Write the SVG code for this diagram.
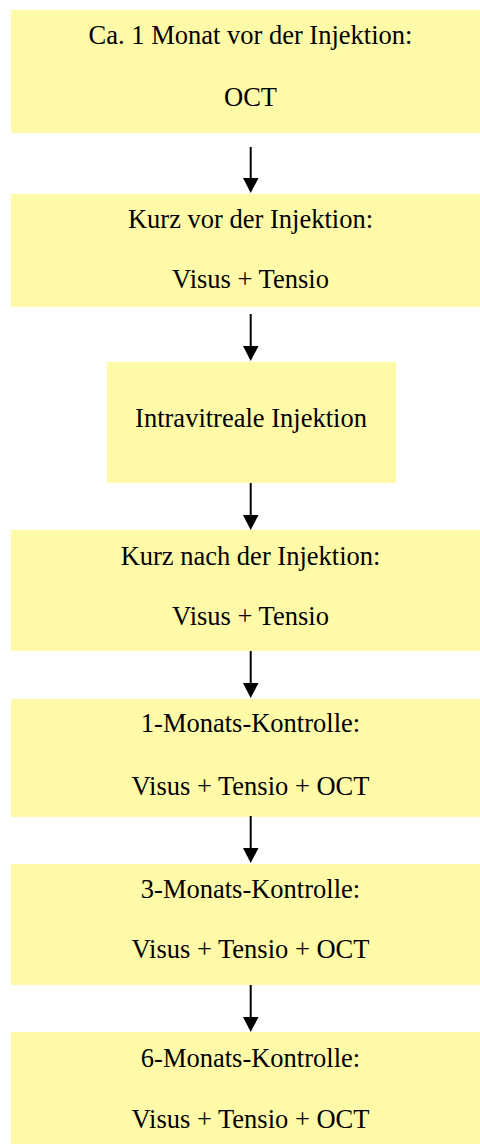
<svg xmlns="http://www.w3.org/2000/svg" width="480" height="1144" viewBox="0 0 480 1144">
<style>
.box{fill:#FFFAA8;stroke:none}
.t{font-family:"Liberation Serif","Times New Roman",serif;font-size:26.5px;fill:#000;text-anchor:middle}
.c{stroke:#000;stroke-width:2;fill:none}
.h{fill:#000}
</style>
<rect width="480" height="1144" fill="#fff"/>
<g id="n1"><rect class="box" x="11" y="10" width="480" height="123"/><text class="t" x="250.5" y="44">Ca. 1 Monat vor der Injektion:</text><text class="t" x="250.5" y="106">OCT</text></g>
<g id="n2"><rect class="box" x="11" y="194" width="480" height="113"/><text class="t" x="250.5" y="228">Kurz vor der Injektion:</text><text class="t" x="250.5" y="288">Visus + Tensio</text></g>
<g id="n3"><rect class="box" x="107" y="362" width="289" height="121"/><text class="t" x="251" y="427">Intravitreale Injektion</text></g>
<g id="n4"><rect class="box" x="11" y="530" width="480" height="121"/><text class="t" x="250.5" y="565">Kurz nach der Injektion:</text><text class="t" x="250.5" y="625">Visus + Tensio</text></g>
<g id="n5"><rect class="box" x="11" y="699" width="480" height="118"/><text class="t" x="250.5" y="732">1-Monats-Kontrolle:</text><text class="t" x="250.5" y="795">Visus + Tensio + OCT</text></g>
<g id="n6"><rect class="box" x="11" y="864" width="480" height="121"/><text class="t" x="250.5" y="898">3-Monats-Kontrolle:</text><text class="t" x="250.5" y="958">Visus + Tensio + OCT</text></g>
<g id="n7"><rect class="box" x="11" y="1032" width="480" height="112"/><text class="t" x="250.5" y="1067">6-Monats-Kontrolle:</text><text class="t" x="250.5" y="1128">Visus + Tensio + OCT</text></g>
<g id="connectors">
<line class="c" x1="250.7" y1="147" x2="250.7" y2="180"/><polygon class="h" points="243,178 258.5,178 250.7,193"/>
<line class="c" x1="250.7" y1="314" x2="250.7" y2="348"/><polygon class="h" points="243,346 258.5,346 250.7,361"/>
<line class="c" x1="250.7" y1="483" x2="250.7" y2="517"/><polygon class="h" points="243,515 258.5,515 250.7,530"/>
<line class="c" x1="250.7" y1="651" x2="250.7" y2="685"/><polygon class="h" points="243,683 258.5,683 250.7,698"/>
<line class="c" x1="250.7" y1="816" x2="250.7" y2="850"/><polygon class="h" points="243,848 258.5,848 250.7,863"/>
<line class="c" x1="250.7" y1="985" x2="250.7" y2="1019"/><polygon class="h" points="243,1017 258.5,1017 250.7,1032"/>
</g>
</svg>
